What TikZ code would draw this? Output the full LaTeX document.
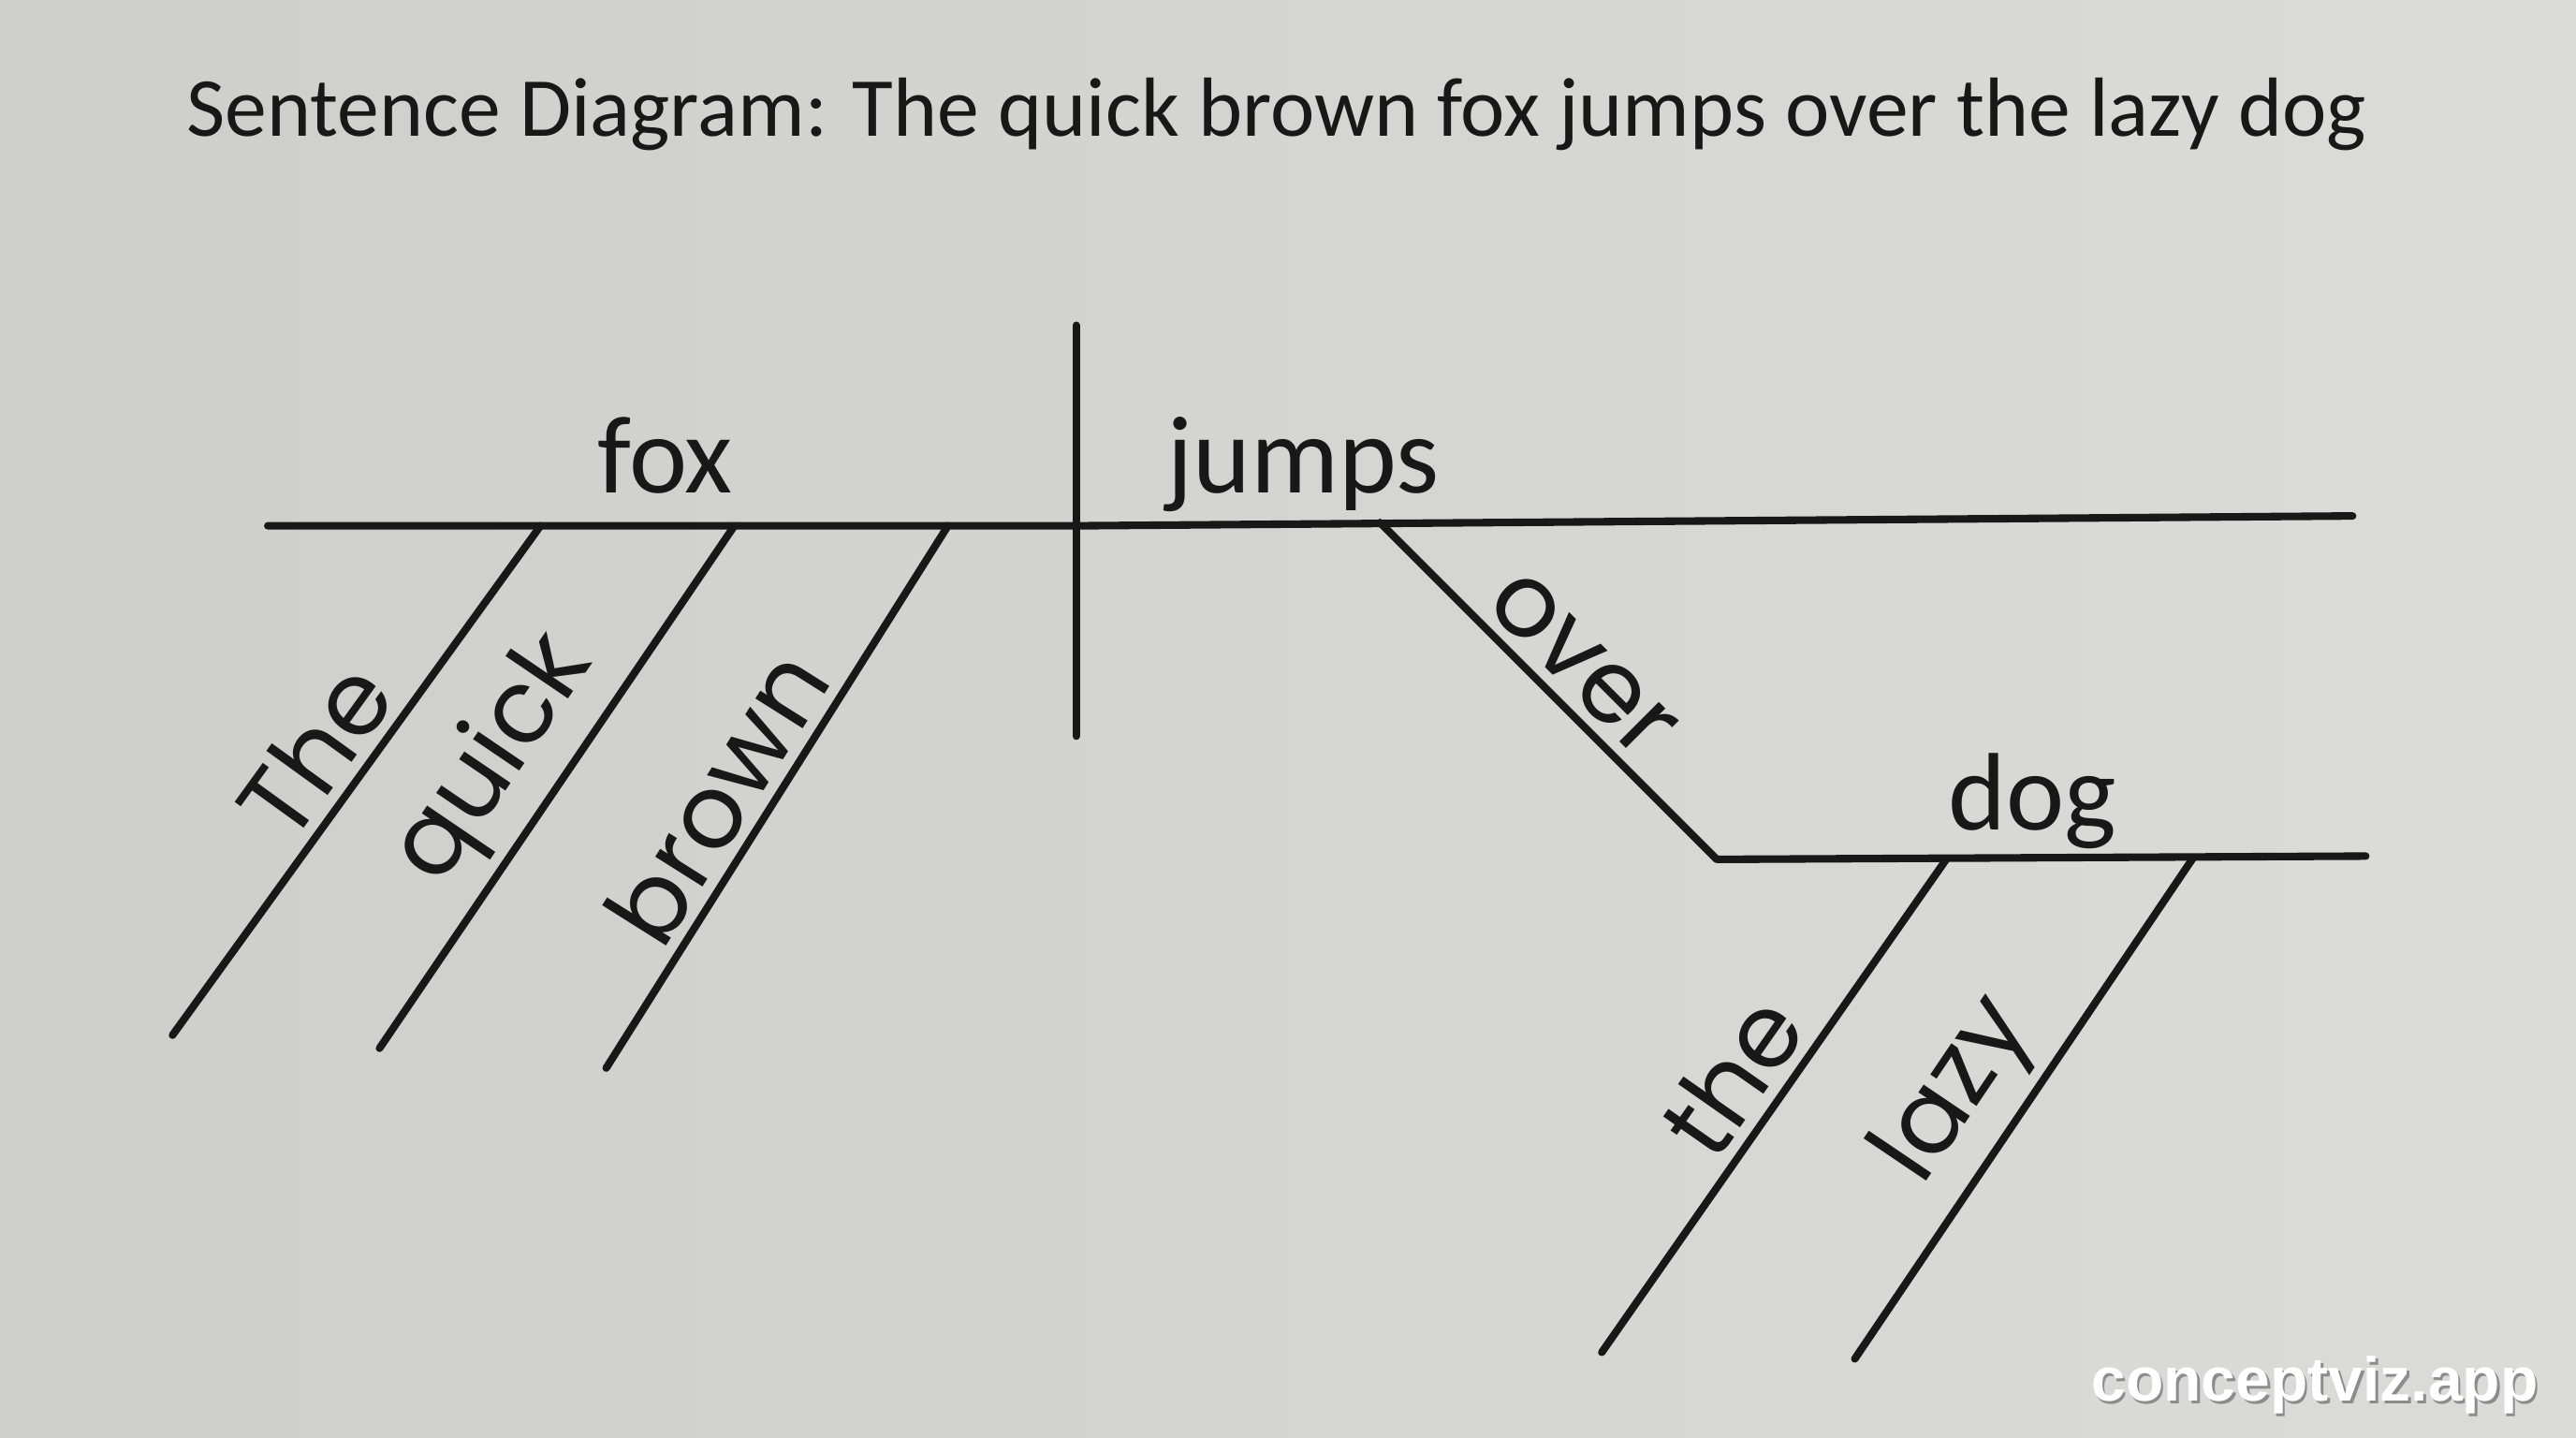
\documentclass[tikz,border=0pt]{standalone}
\usepackage{fontspec}
\setmainfont{Carlito}
\newfontfamily\wordfont{Poppins}
\newfontfamily\markfont{Liberation Sans}
\usetikzlibrary{positioning}

\definecolor{paperd}{RGB}{206,207,202}
\definecolor{paperl}{RGB}{219,219,216}
\definecolor{ink}{RGB}{24,24,24}

\tikzset{
  rule/.style={line width=2.3pt, draw=ink, line cap=round, line join=round},
  head/.style={font=\fontsize{33.5}{40}\selectfont, text=ink, inner sep=0pt, anchor=base},
  modword/.style={font=\wordfont\fontsize{31}{37}\selectfont, text=ink, inner sep=3pt, sloped, above},
}

\begin{document}
\begin{tikzpicture}[x=0.01755cm, y=-0.01755cm]
  \shade[left color=paperd, right color=paperl] (0,0) rectangle (1568,875);
  \useasboundingbox (0,0) rectangle (1568,875);

  \node[font=\fontsize{25.5}{30}\selectfont, text=ink, anchor=base] (title) at (777,83)
    {Sentence Diagram: The quick brown fox jumps over the lazy dog};

  % base line: subject | predicate
  \coordinate (base-l) at (163,320);
  \coordinate (base-m) at (655,320);
  \coordinate (base-r) at (1432,314);
  \coordinate (div-t) at (655,198);
  \coordinate (div-b) at (655,448);
  \draw[rule] (base-l) -- (base-m) -- (base-r);
  \draw[rule] (div-t) -- (div-b);
  \node[head] (fox) at (405,300) {fox};
  \node[head] (jumps) at (793,300) {jumps};

  % modifiers of fox
  \coordinate (the-t) at (329,320);
  \coordinate (the-b) at (105,630);
  \coordinate (quick-t) at (447,320);
  \coordinate (quick-b) at (231,638);
  \coordinate (brown-t) at (577,320);
  \coordinate (brown-b) at (369,650);
  \draw[rule] (the-b) -- (the-t) node[modword, pos=.5] (the) {The};
  \draw[rule] (quick-b) -- (quick-t) node[modword, pos=.48] (quick) {quick};
  \draw[rule] (brown-b) -- (brown-t) node[modword, pos=.45] (brown) {brown};

  % prepositional phrase
  \coordinate (over-t) at (840,318);
  \coordinate (dog-l) at (1045,523);
  \coordinate (dog-r) at (1440,521);
  \draw[rule] (over-t) -- (dog-l) node[modword, pos=.51] (over) {over} -- (dog-r);
  \node[head] (dog) at (1237,505) {dog};

  % modifiers of dog
  \coordinate (the2-t) at (1185,522.5);
  \coordinate (the2-b) at (975,823);
  \coordinate (lazy-t) at (1335,522);
  \coordinate (lazy-b) at (1129,827);
  \draw[rule] (the2-b) -- (the2-t) node[modword, pos=.5] (the2) {the};
  \draw[rule] (lazy-b) -- (lazy-t) node[modword, pos=.46] (lazy) {lazy};

  % watermark
  \node[font=\markfont\bfseries\fontsize{18.8}{22}\selectfont, text=black!45] (markshadow) at (1410.5,844.5) {conceptviz.app};
  \node[font=\markfont\bfseries\fontsize{18.8}{22}\selectfont, text=white] (mark) at (1409,843) {conceptviz.app};
\end{tikzpicture}
\end{document}
